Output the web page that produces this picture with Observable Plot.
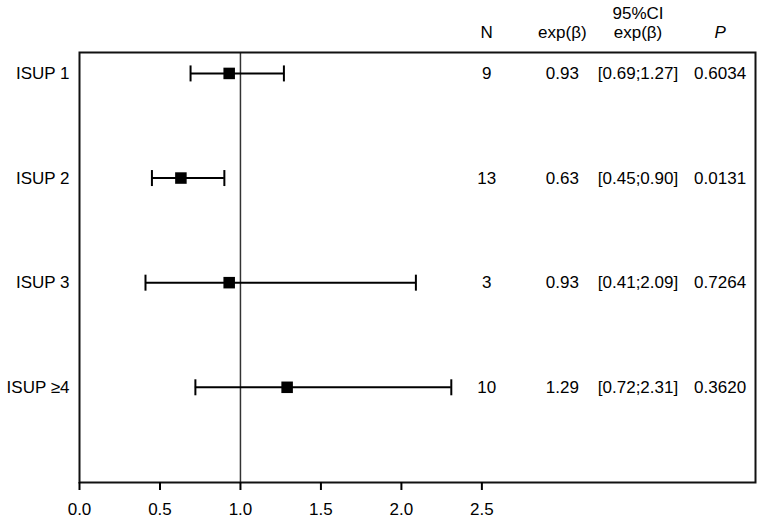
<!DOCTYPE html>
<html><head><meta charset="utf-8">
<script src="https://cdn.jsdelivr.net/npm/d3@7"></script>
<script src="https://cdn.jsdelivr.net/npm/@observablehq/plot@0.6"></script>
<style>body{margin:0;background:#fff} svg{display:block}</style>
</head><body><div id="chart"></div>
<script>
// ---- data ----
const groups = ["ISUP 1", "ISUP 2", "ISUP 3", "ISUP ≥4"];
const estimate = [0.93, 0.63, 0.93, 1.29];
const lower = [0.69, 0.45, 0.41, 0.72];
const upper = [1.27, 0.90, 2.09, 2.31];
const counts = [9, 13, 3, 10];
const estimateText = ["0.93", "0.63", "0.93", "1.29"];
const ciText = ["[0.69;1.27]", "[0.45;0.90]", "[0.41;2.09]", "[0.72;2.31]"];
const pValues = ["0.6034", "0.0131", "0.7264", "0.3620"];
const xTicks = [0, 0.5, 1, 1.5, 2, 2.5];
const referenceValue = [1];
const headerTop = ["", "", "95%CI", ""];
const headerBottom = ["N", "exp(β)", "exp(β)", "P"];

// ---- layout (table column anchors on the x scale) ----
const colX = [2.53, 3.0, 3.47, 3.98];

const rows = groups.map((g, i) => ({
  i, g, est: estimate[i], lo: lower[i], hi: upper[i],
  n: String(counts[i]), e: estimateText[i], ci: ciText[i], p: pValues[i]
}));
const cells = rows.flatMap(r => [r.n, r.e, r.ci, r.p].map((t, c) => ({i: r.i, x: colX[c], t})));
const heads = headerBottom.map((t, c) => ({x: colX[c], t, italic: c === 3}));
const headsTop = headerTop.map((t, c) => ({x: colX[c], t})).filter(d => d.t);

const capSymbol = {
  draw(context, size) {
    const h = Math.sqrt(size / Math.PI);
    context.moveTo(0, -h);
    context.lineTo(0, h);
  }
};

const font = "'Liberation Sans', Arial, Helvetica, sans-serif";

const chart = Plot.plot({
  width: 760,
  height: 518,
  marginLeft: 79,
  marginRight: 5,
  marginTop: 52,
  marginBottom: 36,
  style: {fontFamily: font, fontSize: "17px", color: "#000", background: "#fff"},
  x: {domain: [0, 4.2], label: null},
  y: {domain: [-0.2, 3.91], reverse: true, label: null},
  marks: [
    Plot.ruleX(referenceValue, {stroke: "#333", strokeWidth: 1.5}),
    Plot.ruleY(rows, {y: "i", x1: "lo", x2: "hi", stroke: "#000", strokeWidth: 2}),
    Plot.dot(rows, {x: "lo", y: "i", symbol: capSymbol, r: 8, stroke: "#000", strokeWidth: 2, fill: "none"}),
    Plot.dot(rows, {x: "hi", y: "i", symbol: capSymbol, r: 8, stroke: "#000", strokeWidth: 2, fill: "none"}),
    Plot.dot(rows, {x: "est", y: "i", symbol: "square", r: 6.5, fill: "#000", stroke: "none"}),
    Plot.text(cells, {x: "x", y: "i", text: "t", fontSize: 17, fill: "#000"}),
    Plot.text(heads.filter(d => !d.italic), {x: "x", text: "t", frameAnchor: "top", lineAnchor: "middle", dy: -20, fontSize: 17, fill: "#000"}),
    Plot.text(heads.filter(d => d.italic), {x: "x", text: "t", frameAnchor: "top", lineAnchor: "middle", dy: -20, fontSize: 17, fontStyle: "italic", fill: "#000"}),
    Plot.text(headsTop, {x: "x", text: "t", frameAnchor: "top", lineAnchor: "middle", dy: -39, fontSize: 17, fill: "#000"}),
    Plot.frame({stroke: "#111", strokeWidth: 2}),
    Plot.axisX({ticks: xTicks, tickFormat: d3.format(".1f"), tickSize: 8, tickPadding: 12, strokeWidth: 2, fontSize: 17, label: null}),
    Plot.axisY({ticks: [0, 1, 2, 3], tickFormat: i => groups[i], tickSize: 0, tickPadding: 10, fontSize: 17, label: null})
  ]
});
document.getElementById("chart").appendChild(chart);
</script>
</body></html>
